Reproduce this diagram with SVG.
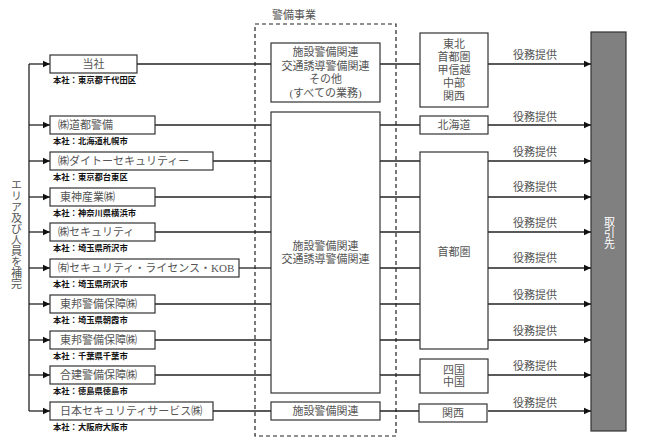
<svg xmlns="http://www.w3.org/2000/svg" width="645" height="446" viewBox="0 0 645 446">
<style>
.box{fill:#fff;stroke:#333;stroke-width:1.2}
.ln{stroke:#222;stroke-width:1.3;fill:none}
.t{font-family:"Liberation Serif","Noto Sans CJK JP",serif;font-size:11px;fill:#555}
.c{text-anchor:middle}
.hq{font-family:"Liberation Sans","Noto Sans CJK JP",sans-serif;font-size:8.3px;font-weight:bold;fill:#111}
.lab{font-family:"Liberation Serif","Noto Sans CJK JP",serif;font-size:11px;fill:#555;text-anchor:middle}
.v{writing-mode:vertical-rl;text-orientation:upright}
</style>
<defs>
<marker id="ah" markerUnits="userSpaceOnUse" markerWidth="8" markerHeight="8" refX="7" refY="4" orient="auto">
<path d="M0,0.8 L7,4 L0,7.2 Z" fill="#111"/>
</marker>
</defs>
<rect width="645" height="446" fill="#fff"/>

<g id="connectors">
<line class="ln" x1="29" y1="64" x2="29" y2="411"/>
<line class="ln" x1="29" y1="64" x2="50" y2="64" marker-end="url(#ah)"/>
<line class="ln" x1="29" y1="125" x2="50" y2="125" marker-end="url(#ah)"/>
<line class="ln" x1="29" y1="161" x2="50" y2="161" marker-end="url(#ah)"/>
<line class="ln" x1="29" y1="197" x2="50" y2="197" marker-end="url(#ah)"/>
<line class="ln" x1="29" y1="232" x2="50" y2="232" marker-end="url(#ah)"/>
<line class="ln" x1="29" y1="268" x2="50" y2="268" marker-end="url(#ah)"/>
<line class="ln" x1="29" y1="304" x2="50" y2="304" marker-end="url(#ah)"/>
<line class="ln" x1="29" y1="340" x2="50" y2="340" marker-end="url(#ah)"/>
<line class="ln" x1="29" y1="375" x2="50" y2="375" marker-end="url(#ah)"/>
<line class="ln" x1="29" y1="411" x2="50" y2="411" marker-end="url(#ah)"/>

<line class="ln" x1="137" y1="64" x2="271" y2="64"/>
<line class="ln" x1="155" y1="125" x2="271" y2="125"/>
<line class="ln" x1="213" y1="161" x2="271" y2="161"/>
<line class="ln" x1="155" y1="197" x2="271" y2="197"/>
<line class="ln" x1="155" y1="232" x2="271" y2="232"/>
<line class="ln" x1="239" y1="268" x2="271" y2="268"/>
<line class="ln" x1="155" y1="304" x2="271" y2="304"/>
<line class="ln" x1="155" y1="340" x2="271" y2="340"/>
<line class="ln" x1="155" y1="375" x2="271" y2="375"/>
<line class="ln" x1="213" y1="411" x2="271" y2="411"/>

<line class="ln" x1="380" y1="64" x2="420" y2="64"/>
<line class="ln" x1="380" y1="125" x2="420" y2="125"/>
<line class="ln" x1="380" y1="161" x2="420" y2="161"/>
<line class="ln" x1="380" y1="197" x2="420" y2="197"/>
<line class="ln" x1="380" y1="232" x2="420" y2="232"/>
<line class="ln" x1="380" y1="268" x2="420" y2="268"/>
<line class="ln" x1="380" y1="304" x2="420" y2="304"/>
<line class="ln" x1="380" y1="340" x2="420" y2="340"/>
<line class="ln" x1="380" y1="375" x2="420" y2="375"/>
<line class="ln" x1="380" y1="411" x2="420" y2="411"/>

<line class="ln" x1="488" y1="64" x2="591" y2="64" marker-end="url(#ah)"/>
<line class="ln" x1="488" y1="125" x2="591" y2="125" marker-end="url(#ah)"/>
<line class="ln" x1="488" y1="161" x2="591" y2="161" marker-end="url(#ah)"/>
<line class="ln" x1="488" y1="197" x2="591" y2="197" marker-end="url(#ah)"/>
<line class="ln" x1="488" y1="232" x2="591" y2="232" marker-end="url(#ah)"/>
<line class="ln" x1="488" y1="268" x2="591" y2="268" marker-end="url(#ah)"/>
<line class="ln" x1="488" y1="304" x2="591" y2="304" marker-end="url(#ah)"/>
<line class="ln" x1="488" y1="340" x2="591" y2="340" marker-end="url(#ah)"/>
<line class="ln" x1="488" y1="375" x2="591" y2="375" marker-end="url(#ah)"/>
<line class="ln" x1="488" y1="411" x2="591" y2="411" marker-end="url(#ah)"/>

<text class="lab" x="535" y="59">役務提供</text>
<text class="lab" x="535" y="121">役務提供</text>
<text class="lab" x="535" y="156">役務提供</text>
<text class="lab" x="535" y="191">役務提供</text>
<text class="lab" x="535" y="227">役務提供</text>
<text class="lab" x="535" y="262">役務提供</text>
<text class="lab" x="535" y="299">役務提供</text>
<text class="lab" x="535" y="335">役務提供</text>
<text class="lab" x="535" y="370">役務提供</text>
<text class="lab" x="535" y="407">役務提供</text>
</g>

<g id="side-label">
<text class="t v" font-size="10" x="15.5" y="179">エリア及び人員を補完</text>
</g>

<g id="c1"><rect class="box" x="50" y="55" width="87" height="18"/><text class="t c" x="93.5" y="68">当社</text><text class="hq" x="53" y="83">本社：東京都千代田区</text></g>
<g id="c2"><rect class="box" x="50" y="116" width="105" height="18"/><text class="t" x="58" y="129">㈱道都警備</text><text class="hq" x="53" y="144">本社：北海道札幌市</text></g>
<g id="c3"><rect class="box" x="50" y="152" width="163" height="18"/><text class="t" x="58" y="165">㈱ダイトーセキュリティー</text><text class="hq" x="53" y="180">本社：東京都台東区</text></g>
<g id="c4"><rect class="box" x="50" y="188" width="105" height="18"/><text class="t" x="60" y="201">東神産業㈱</text><text class="hq" x="53" y="216">本社：神奈川県横浜市</text></g>
<g id="c5"><rect class="box" x="50" y="223" width="105" height="18"/><text class="t" x="58" y="236">㈱セキュリティ</text><text class="hq" x="53" y="251">本社：埼玉県所沢市</text></g>
<g id="c6"><rect class="box" x="50" y="259" width="189" height="18"/><text class="t" x="58" y="272">㈲セキュリティ・ライセンス・KOB</text><text class="hq" x="53" y="287">本社：埼玉県所沢市</text></g>
<g id="c7"><rect class="box" x="50" y="295" width="105" height="18"/><text class="t" x="60" y="308">東邦警備保障㈱</text><text class="hq" x="53" y="323">本社：埼玉県朝霞市</text></g>
<g id="c8"><rect class="box" x="50" y="331" width="105" height="18"/><text class="t" x="60" y="344">東邦警備保障㈱</text><text class="hq" x="53" y="359">本社：千葉県千葉市</text></g>
<g id="c9"><rect class="box" x="50" y="366" width="105" height="18"/><text class="t" x="60" y="379">合建警備保障㈱</text><text class="hq" x="53" y="394">本社：徳島県徳島市</text></g>
<g id="c10"><rect class="box" x="50" y="402" width="163" height="18"/><text class="t" x="60" y="415">日本セキュリティサービス㈱</text><text class="hq" x="53" y="430">本社：大阪府大阪市</text></g>

<g id="security-business">
<rect x="255" y="24" width="141" height="412" fill="none" stroke="#222" stroke-width="1.2" stroke-dasharray="4,3"/>
<text class="t" font-size="10.5" x="272" y="19">警備事業</text>
</g>
<g id="m1"><rect class="box" x="271" y="43" width="109" height="59"/>
<text class="t c" x="325.5" y="56">施設警備関連</text>
<text class="t c" x="325.5" y="70">交通誘導警備関連</text>
<text class="t c" x="325.5" y="83">その他</text>
<text class="t c" x="325.5" y="97">(すべての業務)</text></g>
<g id="m2"><rect class="box" x="271" y="112" width="109" height="281"/>
<text class="t c" x="325.5" y="250">施設警備関連</text>
<text class="t c" x="325.5" y="263">交通誘導警備関連</text></g>
<g id="m3"><rect class="box" x="271" y="402" width="109" height="18"/>
<text class="t c" x="325.5" y="415">施設警備関連</text></g>

<g id="r1"><rect class="box" x="420" y="33" width="68" height="74"/>
<text class="t c" font-size="10.5" x="454" y="48">東北</text>
<text class="t c" font-size="10.5" x="454" y="61">首都圏</text>
<text class="t c" font-size="10.5" x="454" y="74">甲信越</text>
<text class="t c" font-size="10.5" x="454" y="87">中部</text>
<text class="t c" font-size="10.5" x="454" y="100">関西</text></g>
<g id="r2"><rect class="box" x="420" y="116" width="68" height="18"/><text class="t c" font-size="10.5" x="454" y="129">北海道</text></g>
<g id="r3"><rect class="box" x="420" y="152" width="68" height="197"/><text class="t c" font-size="10.5" x="454" y="256">首都圏</text></g>
<g id="r4"><rect class="box" x="420" y="359" width="68" height="34"/>
<text class="t c" font-size="10.5" x="454" y="374">四国</text>
<text class="t c" font-size="10.5" x="454" y="386">中国</text></g>
<g id="r5"><rect class="box" x="419" y="404" width="68" height="18"/><text class="t c" font-size="10.5" x="453" y="417">関西</text></g>

<g id="client"><rect x="591" y="32" width="35" height="399" fill="#808080" stroke="#333" stroke-width="1.2"/>
<text class="v" font-family="Liberation Sans,Noto Sans CJK JP,sans-serif" font-size="11" letter-spacing="0" fill="#fff" x="608.5" y="216">取引先</text></g>
</svg>
